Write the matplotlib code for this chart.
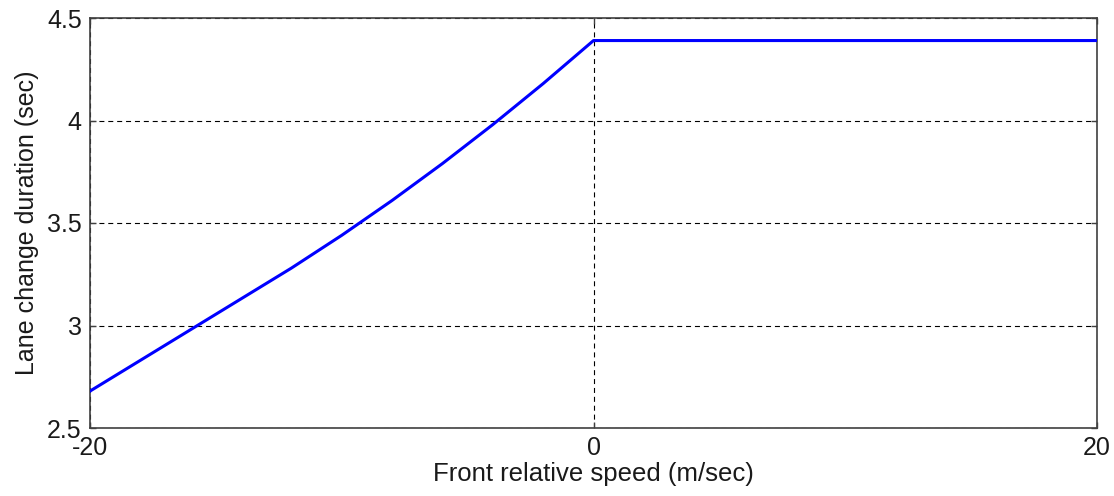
import numpy as np
import matplotlib.pyplot as plt

plt.rcParams['font.family'] = ['Liberation Sans', 'DejaVu Sans']

# front relative speed (m/sec) and lane change duration (sec)
speed = [-20, -18, -16, -14, -12, -10, -8, -6, -4, -2, 0, 20]
duration = [2.68, 2.83, 2.98, 3.13, 3.28, 3.44, 3.61, 3.79, 3.98, 4.18, 4.39, 4.39]

xticks = [-20, 0, 20]
yticks = [2.5, 3, 3.5, 4, 4.5]
ytick_labels = ['2.5', '3', '3.5', '4', '4.5']

fig = plt.figure(figsize=(11.14, 4.96), dpi=100)
ax = fig.add_axes([90 / 1114, 68 / 496, 1007 / 1114, 410 / 496])

ax.plot(speed, duration, color='#0000ff', lw=2.2, zorder=3)

ax.set_xlim(-20, 20)
ax.set_ylim(2.5, 4.5)
ax.set_xticks(xticks)
ax.set_xticklabels([str(t) for t in xticks])
ax.set_yticks(yticks)
ax.set_yticklabels(ytick_labels)

ax.grid(True, color='black', lw=0.8, linestyle=(0, (4.5, 3.5)))
ax.tick_params(direction='in', length=4, width=1, labelsize=18, pad=6,
               colors='#404040', labelcolor='#1a1a1a', top=True, right=True)
for s in ax.spines.values():
    s.set_color('#404040')
    s.set_linewidth(1.2)

ax.set_xlabel('Front relative speed (m/sec)', fontsize=18.5, labelpad=1, color='#1a1a1a')
ax.set_ylabel('Lane change duration (sec)', fontsize=18, labelpad=6, color='#1a1a1a')

fig.savefig('out.png', dpi=100)
